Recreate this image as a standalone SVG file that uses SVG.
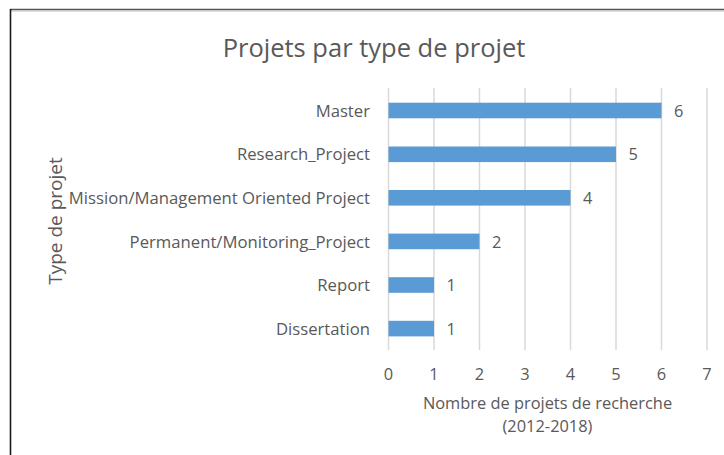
<svg xmlns="http://www.w3.org/2000/svg" width="724" height="455" viewBox="0 0 724 455">
  <style>
    text { font-family: "Open Sans", "Liberation Sans", sans-serif; fill: #595959; }
    .cat { font-size: 16.7px; text-anchor: end; }
    .val { font-size: 16.4px; text-anchor: start; }
    .tick { font-size: 16.4px; text-anchor: middle; }
    .axt { font-size: 16.4px; text-anchor: middle; }
    .grid { stroke: #d9d9d9; stroke-width: 1.5; }
    .bar { fill: #5b9bd5; }
  </style>
  <rect x="0" y="0" width="724" height="455" fill="#ffffff"/>
  <g id="frame">
    <line x1="10" y1="9.5" x2="724" y2="9.5" stroke="#555555" stroke-width="1.5"/>
    <line x1="10" y1="11" x2="724" y2="11" stroke="#bdbdbd" stroke-width="1"/>
    <line x1="10.5" y1="9" x2="10.5" y2="455" stroke="#1a1a1a" stroke-width="1.6"/>
  </g>
  <g id="title">
    <text x="374" y="56.5" style="font-size:25.5px;text-anchor:middle">Projets par type de projet</text>
  </g>
  <g id="gridlines">
    <line class="grid" x1="388.5" y1="88" x2="388.5" y2="350"/>
    <line class="grid" x1="434" y1="88" x2="434" y2="350"/>
    <line class="grid" x1="479.5" y1="88" x2="479.5" y2="350"/>
    <line class="grid" x1="525" y1="88" x2="525" y2="350"/>
    <line class="grid" x1="570.5" y1="88" x2="570.5" y2="350"/>
    <line class="grid" x1="616" y1="88" x2="616" y2="350"/>
    <line class="grid" x1="661.5" y1="88" x2="661.5" y2="350"/>
    <line class="grid" x1="707" y1="88" x2="707" y2="350"/>
  </g>
  <g id="x-axis">
    <text class="tick" x="388.5" y="380">0</text>
    <text class="tick" x="434" y="380">1</text>
    <text class="tick" x="479.5" y="380">2</text>
    <text class="tick" x="525" y="380">3</text>
    <text class="tick" x="570.5" y="380">4</text>
    <text class="tick" x="616" y="380">5</text>
    <text class="tick" x="661.5" y="380">6</text>
    <text class="tick" x="707" y="380">7</text>
    <text class="axt" x="547.5" y="409">Nombre de projets de recherche</text>
    <text class="axt" x="547.5" y="431.5">(2012-2018)</text>
  </g>
  <g id="y-axis">
    <text transform="translate(62 221) rotate(-90)" style="font-size:19px;text-anchor:middle">Type de projet</text>
  </g>
  <g id="bar-master">
    <text class="cat" x="370" y="116.5">Master</text>
    <rect class="bar" x="388.5" y="102.7" width="273" height="15.6"/>
    <text class="val" x="674" y="116.5">6</text>
  </g>
  <g id="bar-research">
    <text class="cat" x="370" y="160.3">Research_Project</text>
    <rect class="bar" x="388.5" y="146.5" width="227.5" height="15.6"/>
    <text class="val" x="628.5" y="160.3">5</text>
  </g>
  <g id="bar-mission">
    <text class="cat" x="370" y="203.9">Mission/Management Oriented Project</text>
    <rect class="bar" x="388.5" y="190" width="182" height="15.6"/>
    <text class="val" x="583" y="203.9">4</text>
  </g>
  <g id="bar-permanent">
    <text class="cat" x="370" y="247.5">Permanent/Monitoring_Project</text>
    <rect class="bar" x="388.5" y="233.6" width="91" height="15.6"/>
    <text class="val" x="492" y="247.5">2</text>
  </g>
  <g id="bar-report">
    <text class="cat" x="370" y="291.1">Report</text>
    <rect class="bar" x="388.5" y="277.2" width="45.5" height="15.6"/>
    <text class="val" x="446.5" y="291.1">1</text>
  </g>
  <g id="bar-dissertation">
    <text class="cat" x="370" y="334.7">Dissertation</text>
    <rect class="bar" x="388.5" y="320.8" width="45.5" height="15.6"/>
    <text class="val" x="446.5" y="334.7">1</text>
  </g>
</svg>
